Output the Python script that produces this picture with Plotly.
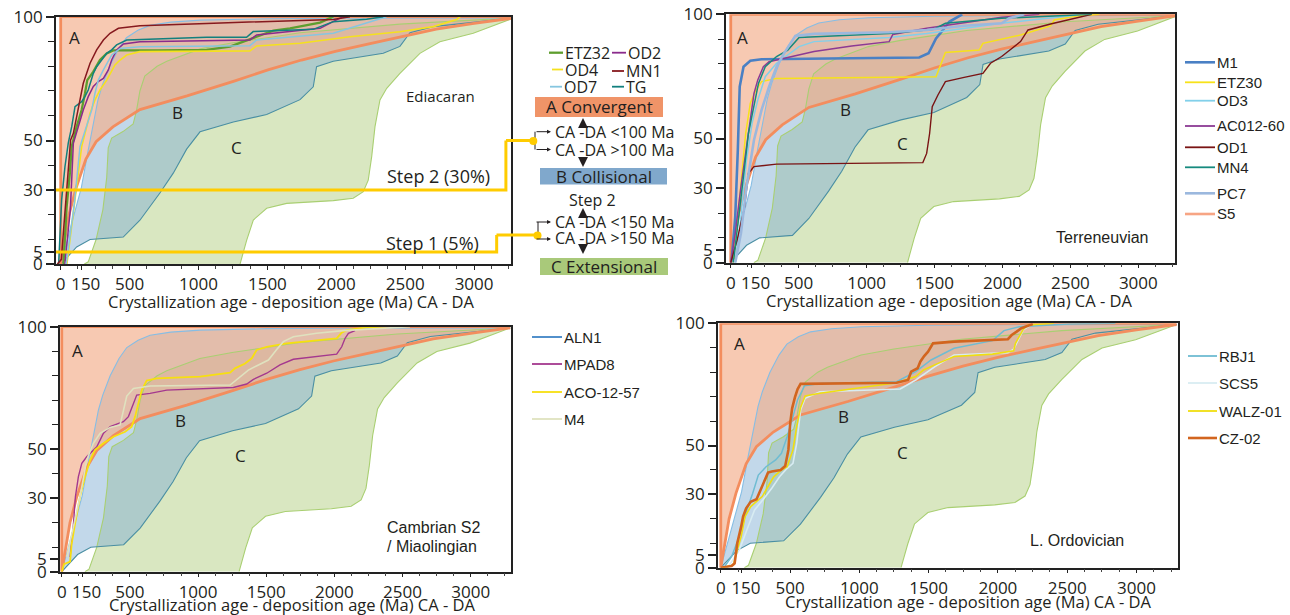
import plotly.graph_objects as go

W, H = 1290, 615

# ---------------- envelope fields (CA-DA in Ma vs cumulative %) ----------------
A_x = [0, 25, 60, 110, 183, 257, 379, 575, 917, 1259, 1504, 1748, 1993, 2237, 2482, 2726, 3000, 3290]
A_y = [0, 9, 20, 30.5, 42.5, 49.5, 55.5, 62.5, 68, 74, 78.5, 82.5, 86, 89, 92, 95, 97.3, 99.5]

B_up_x = [0, 50, 110, 150, 196, 240, 269, 300, 355, 420, 477, 560, 648, 800, 1015, 1500, 2000, 3290]
B_up_y = [0, 10, 22, 31, 45, 58, 66, 72, 80, 87, 91.5, 94.5, 96.5, 97.8, 98.6, 99.2, 99.4, 99.5]
B_lo_x = [0, 116, 213, 454, 575, 720, 817, 914, 1011, 1253, 1495, 1737, 1833, 1857, 1978, 2341, 2462, 2535, 2704, 3290]
B_lo_y = [0, 7, 10, 11, 17.8, 28.8, 36.8, 46.5, 53.5, 57.5, 60.5, 66.5, 71.7, 79.8, 82, 85.2, 88, 93.5, 96, 99.5]

C_l_x = [170, 200, 257, 306, 334, 345, 370, 452, 526, 550, 575, 610, 700, 770, 1013, 1250, 1500, 1737, 2462, 3290]
C_l_y = [0, 1, 10, 22, 35, 47, 51, 53.6, 56.7, 62, 70, 76, 80, 82, 87, 89.5, 91.5, 93.5, 97, 99.5]
C_r_x = [1301, 1350, 1398, 1495, 1640, 1978, 2123, 2196, 2232, 2257, 2281, 2317, 2366, 2462, 2607, 2752, 2994, 3290]
C_r_y = [0, 9.8, 17.9, 22.6, 24.6, 25.7, 26.7, 29.3, 34, 43.5, 55.6, 66.4, 71.1, 77.1, 85.2, 89.9, 93.3, 99.5]

# ---------------- Ediacaran samples ----------------
ETZ32_x = [20, 43, 67, 80, 116, 152, 176, 193, 237, 285, 334, 382, 700, 1059, 1228, 1301, 1422, 1543, 1664, 1882, 1978]
ETZ32_y = [0, 23, 37, 47.5, 55.6, 62.3, 69, 74.4, 77.8, 82.5, 85.2, 86.4, 86.4, 86.6, 87.9, 89.3, 91.9, 94.4, 95.3, 97.6, 100]
OD2_x = [30, 70, 92, 128, 164, 200, 237, 273, 310, 346, 370, 406, 455, 575, 1373, 1422, 1664, 1882, 2002, 2050]
OD2_y = [0, 22, 48.9, 55.6, 62.3, 67.7, 71.8, 73.8, 75.1, 78.5, 82.5, 86.6, 89, 89.9, 90.6, 92.6, 94, 95.3, 98.7, 100]
OD4_x = [45, 110, 152, 189, 213, 249, 285, 334, 370, 394, 431, 479, 575, 1373, 1422, 1737, 2099, 2462, 2704, 2874, 2900]
OD4_y = [0, 28, 47.5, 55.6, 61, 66.4, 70.4, 74.4, 77.8, 80.5, 82.5, 84.5, 85.9, 86.2, 88.2, 89.3, 91.9, 93.9, 96, 98.9, 100]
MN1_x = [-25, 5, 19, 55, 72, 92, 128, 164, 213, 261, 310, 358, 419, 575, 1059, 1664, 1978, 2099]
MN1_y = [0, 2, 12.5, 39.4, 50.2, 52.9, 62.3, 73.1, 81.2, 86.6, 90.6, 93.3, 95.3, 96.3, 97.3, 98.4, 98.9, 100]
OD7_x = [40, 100, 140, 189, 225, 249, 273, 310, 346, 370, 431, 575, 1373, 1422, 1978, 2220, 2365]
OD7_y = [0, 25, 47.5, 55.6, 62.3, 69.1, 74.4, 78.5, 82.5, 84.5, 87.2, 87.9, 88.3, 90.6, 93.3, 97.3, 100]
TG_x = [-15, 7, 31, 55, 80, 104, 152, 176, 200, 237, 261, 297, 334, 370, 406, 479, 1059, 1349, 1397, 1833, 1978, 2220, 2341]
TG_y = [0, 26, 39.4, 48.9, 55.6, 63.7, 65.7, 67.7, 70.4, 77.1, 79.8, 82.5, 85.2, 86.6, 88.6, 90.6, 91.7, 91.7, 94, 94.9, 98, 99, 100]

# ---------------- Terreneuvian samples ----------------
M1_x = [5, 33, 52, 66, 94, 144, 227, 1387, 1456, 1483, 1511, 1552, 1608, 1704]
M1_y = [0, 18.5, 45.4, 70.9, 78.9, 81.3, 81.9, 82.6, 84.3, 87, 90.3, 93, 97, 100]
ETZ30_x = [19, 47, 75, 110, 144, 185, 227, 337, 1511, 1539, 1580, 1829, 1856, 2133, 2354, 2381, 2547, 2713]
ETZ30_y = [0, 14.5, 31.9, 52.1, 64.2, 69.5, 72.9, 74.2, 74.9, 78.9, 84.6, 85.6, 88.3, 91.7, 95.3, 97.7, 99.3, 100]
OD3_x = [33, 75, 116, 157, 199, 254, 337, 420, 503, 613, 1166, 1442, 1994, 2547]
OD3_y = [0, 18.5, 41.3, 56.1, 65.5, 74.9, 80.3, 83.6, 87, 89, 90.7, 92.3, 96.4, 99.7]
AC012_x = [0, 33, 75, 130, 171, 199, 240, 282, 420, 613, 890, 1166, 1193, 1442, 1718, 1994, 2271]
AC012_y = [0, 11.8, 30.6, 52.1, 68.2, 73.6, 78.9, 80.9, 82.7, 85, 87.2, 89, 91.9, 94.4, 96.6, 98.8, 100]
OD1_x = [0, 47, 102, 130, 171, 337, 1414, 1442, 1464, 1483, 1525, 1580, 1718, 1856, 1912, 1994, 2133, 2188, 2354, 2547, 2657]
OD1_y = [0, 9.1, 22.6, 36, 38.7, 39.7, 40.3, 44, 52.1, 62.8, 67.5, 72.9, 74.6, 76.2, 80.3, 83, 89, 93.7, 96.1, 98.4, 100]
MN4_x = [19, 61, 102, 130, 171, 204, 254, 337, 420, 503, 1166, 1497, 1580, 1994, 2657]
MN4_y = [0, 18.5, 38.7, 52.1, 62.8, 72.2, 78.9, 83, 85.6, 90.7, 92.3, 94, 96.4, 98.4, 100]
PC7_x = [33, 75, 116, 171, 227, 282, 337, 392, 475, 613, 1166, 1442, 1718, 1994, 2050, 2160]
PC7_y = [0, 11.8, 30.6, 49.4, 61.5, 70.9, 78.9, 84.3, 91.3, 92.1, 92.8, 93.7, 95.4, 96.4, 98.4, 100]
S5_x = []
S5_y = []

# ---------------- Cambrian S2 / Miaolingian samples ----------------
ALN1_x = []
ALN1_y = []
MPAD8_x = [61, 86, 100, 122, 147, 183, 257, 306, 355, 452, 489, 526, 550, 648, 770, 1259, 1357, 1406, 1504, 1601, 1699, 2017, 2054, 2078, 2103, 2152]
MPAD8_y = [6, 19.7, 30.6, 38.8, 44.2, 46.9, 51, 56.5, 59.2, 61.2, 63.3, 68.7, 72.1, 72.8, 74.1, 75.2, 76.6, 78.5, 81, 84.4, 86.7, 88.8, 91.8, 95.2, 97.3, 98.4]
ACO_x = [0, 17, 61, 73, 98, 134, 171, 208, 244, 306, 379, 465, 513, 538, 562, 587, 623, 697, 1015, 1235, 1271, 1345, 1394, 1430, 1504, 1650, 2017, 2054, 2090, 2237, 2384]
ACO_y = [0, 3.1, 4.1, 11.6, 19.7, 30.6, 38.8, 45.6, 49.7, 52.4, 55.1, 57.1, 59.2, 63.3, 68.7, 74.1, 78, 78.9, 79.6, 81.2, 83, 85, 87.1, 90.5, 91.8, 93.2, 95.2, 97.6, 98.6, 99.7, 100]
M4_x = [37, 86, 134, 183, 232, 281, 355, 428, 452, 477, 526, 648, 1235, 1271, 1320, 1369, 1443, 1516, 1577, 1626, 1699, 1870, 2066, 2555]
M4_y = [6.1, 18.4, 30.6, 45.6, 52.4, 56.5, 58.9, 59.9, 66, 71.7, 74.8, 75.8, 76.2, 77.8, 79.9, 82.3, 84.4, 86.4, 90.7, 93.9, 95.9, 97.3, 98.4, 100]

# ---------------- L. Ordovician samples ----------------
RBJ1_x = [22, 78, 133, 188, 230, 271, 327, 396, 438, 479, 521, 554, 604, 715, 1269, 1407, 1518, 1684, 1961, 2044, 2155, 2515, 2848]
RBJ1_y = [0, 4.5, 12.7, 23.6, 30.4, 37.9, 41.3, 44.1, 46.8, 53.6, 61.8, 68.6, 74.4, 75.4, 76.1, 80.2, 85, 89.8, 92.9, 97, 98.6, 99.7, 100]
SCS5_x = [50, 133, 188, 244, 313, 368, 424, 471, 521, 548, 576, 609, 715, 1296, 1407, 1546, 1684, 2072, 2114, 2141, 2183, 2238]
SCS5_y = [0, 7.2, 15.4, 23.6, 28.4, 32.5, 37.2, 40.2, 42.7, 50.9, 64.5, 69.3, 72, 73.1, 76.8, 82.3, 87, 88, 89.4, 92.5, 97.3, 99.3]
WALZ_x = [8, 91, 119, 147, 175, 216, 299, 382, 438, 479, 521, 548, 576, 609, 715, 909, 1269, 1407, 1463, 1560, 1684, 1961, 2114, 2127, 2155, 2183, 2216, 2404]
WALZ_y = [0, 1.1, 7.2, 12.7, 20.9, 25, 29.1, 37.2, 40, 41.3, 48.2, 57.7, 65.6, 70.3, 71.4, 73, 75.7, 78.2, 80.9, 83.4, 86.4, 87.4, 88.8, 91.8, 94.8, 97.5, 99.3, 100]
CZ02_x = [0, 78, 100, 119, 147, 161, 183, 216, 258, 285, 313, 341, 368, 432, 465, 488, 501, 515, 535, 554, 576, 1269, 1352, 1374, 1421, 1440, 1468, 1496, 1532, 1684, 2072, 2100, 2133, 2169, 2252]
CZ02_y = [0, 0.7, 1.8, 10, 16.8, 20.9, 24.3, 27, 28, 31.8, 35.2, 38.9, 39.4, 40, 41.6, 48.2, 59.1, 65.2, 69.7, 73, 75.2, 75.7, 76.8, 80.2, 81.6, 84.3, 86.6, 88.4, 91.8, 92.5, 93.5, 95.2, 96.5, 98, 99.7]

# step thresholds (Ediacaran panel)
step_pct = [5, 30]
step_end_x = [3164, 3231]
step_link_y = [11.8, 50]

# tick labels
x_tickvals = [0, 150, 500, 1000, 1500, 2000, 2500, 3000]
x_ticktext = ['0', '\u00a0\u00a0150', '500', '1000', '1500', '2000', '2500', '3000']
y_tickvals = [0, 5, 30, 50, 100]
y_minor = [10, 20, 40, 60, 70, 80, 90]
x_title = 'Crystallization age - deposition age (Ma) CA - DA'

# ---------------- layout helpers ----------------
def fx(p):
    return p / W


def fy(p):
    return 1 - p / H


MAIN_FONT = 'Open Sans'
ARIAL = 'Liberation Sans'
TXT = '#231f20'

panels = [
    dict(ax='', left=56, right=511, top=16.7, bottom=264.3, xr=[-34, 3268], title=(291, 302)),
    dict(ax='2', left=726, right=1175, top=14.3, bottom=262.7, xr=[-35, 3270], title=(949, 300)),
    dict(ax='3', left=60, right=511, top=326.7, bottom=571.7, xr=[-13, 3296], title=(292, 604.5)),
    dict(ax='4', left=718, right=1178, top=323.3, bottom=567.7, xr=[-20, 3300], title=(968, 601)),
]

samples = [
    [('ETZ32', ETZ32_x, ETZ32_y, '#5e9e2e', 2.3), ('OD2', OD2_x, OD2_y, '#8a2b8c', 1.5),
     ('OD4', OD4_x, OD4_y, '#f5e11e', 1.6), ('OD7', OD7_x, OD7_y, '#86c6e0', 1.5),
     ('TG', TG_x, TG_y, '#12807e', 1.5), ('MN1', MN1_x, MN1_y, '#86191e', 1.5)],
    [('M1', M1_x, M1_y, '#4a80c4', 2.6), ('ETZ30', ETZ30_x, ETZ30_y, '#f7e21a', 1.5),
     ('OD3', OD3_x, OD3_y, '#82d0ea', 1.5), ('AC012-60', AC012_x, AC012_y, '#8c3a94', 1.5),
     ('OD1', OD1_x, OD1_y, '#7a1414', 1.4), ('MN4', MN4_x, MN4_y, '#168a7e', 1.5),
     ('PC7', PC7_x, PC7_y, '#9bb8de', 2.6), ('S5', S5_x, S5_y, '#f7a584', 2.6)],
    [('ALN1', ALN1_x, ALN1_y, '#3f84c6', 1.8), ('MPAD8', MPAD8_x, MPAD8_y, '#a4388e', 1.4),
     ('ACO-12-57', ACO_x, ACO_y, '#f7df10', 1.8), ('M4', M4_x, M4_y, '#dfe2bf', 1.6)],
    [('RBJ1', RBJ1_x, RBJ1_y, '#6fbcd2', 1.5), ('SCS5', SCS5_x, SCS5_y, '#d8ecf2', 1.6),
     ('WALZ-01', WALZ_x, WALZ_y, '#f0de10', 1.6), ('CZ-02', CZ02_x, CZ02_y, '#d2651f', 2.6)],
]

fig = go.Figure()

for i, p in enumerate(panels):
    xa, ya = 'x' + p['ax'], 'y' + p['ax']
    common = dict(xaxis=xa, yaxis=ya, showlegend=False, hoverinfo='skip')
    fig.add_trace(go.Scatter(x=C_l_x + C_r_x[::-1], y=C_l_y + C_r_y[::-1], mode='lines', fill='toself',
                             fillcolor='#d9e7c1', line=dict(width=0), **common))
    fig.add_trace(go.Scatter(x=B_up_x + B_lo_x[::-1], y=B_up_y + B_lo_y[::-1], mode='lines', fill='toself',
                             fillcolor='rgba(128,174,212,0.48)', line=dict(width=0), **common))
    fig.add_trace(go.Scatter(x=A_x + [3290, 0], y=A_y + [100, 100], mode='lines', fill='toself',
                             fillcolor='rgba(243,176,142,0.68)', line=dict(width=0), **common))
    fig.add_trace(go.Scatter(x=C_l_x, y=C_l_y, mode='lines', line=dict(color='#a9cf72', width=1.1), **common))
    fig.add_trace(go.Scatter(x=C_r_x, y=C_r_y, mode='lines', line=dict(color='#a9cf72', width=1.1), **common))
    fig.add_trace(go.Scatter(x=B_up_x, y=B_up_y, mode='lines', line=dict(color='#86bde4', width=1.1), **common))
    fig.add_trace(go.Scatter(x=B_lo_x, y=B_lo_y, mode='lines', line=dict(color='#4a8fa3', width=1.1), **common))
    fig.add_trace(go.Scatter(x=[3290, 0] + A_x, y=[100, 100] + A_y, mode='lines',
                             line=dict(color='#f38d5e', width=2.8), **common))
    for name, sx, sy, col, lw in samples[i]:
        fig.add_trace(go.Scatter(x=sx, y=sy, mode='lines', name=name, line=dict(color=col, width=lw),
                                 xaxis=xa, yaxis=ya, showlegend=False))

for lvl, ex, ly in zip(step_pct, step_end_x, step_link_y):
    fig.add_trace(go.Scatter(x=[-34, ex, ex], y=[lvl, lvl, ly], mode='lines',
                             line=dict(color='#ffcc00', width=3), xaxis='x', yaxis='y',
                             showlegend=False, hoverinfo='skip'))

for p in panels:
    k = p['ax']
    xd = [fx(p['left']), fx(p['right'])]
    yd = [fy(p['bottom']), fy(p['top'])]
    fig.layout['xaxis' + k] = dict(
        domain=xd, range=p['xr'], anchor='y' + k, automargin=False, tickmode='array',
        tickvals=x_tickvals, ticktext=x_ticktext,
        tickangle=0, ticks='outside', ticklen=4, tickwidth=1.2, tickcolor='#222', showgrid=False, zeroline=False,
        showline=True, linecolor='#222', linewidth=1.5, mirror=True,
        minor=dict(tickmode='linear', tick0=0, dtick=125, ticks='outside', ticklen=3, tickcolor='#444', showgrid=False),
        tickfont=dict(family=MAIN_FONT, size=17, color=TXT),
    )
    fig.layout['yaxis' + k] = dict(
        domain=yd, range=[0, 100], anchor='x' + k, automargin=False, tickmode='array', tickvals=y_tickvals,
        ticks='outside', ticklen=8, tickwidth=2, tickcolor='#222', showgrid=False, zeroline=False,
        showline=True, linecolor='#222', linewidth=1.8, mirror=True,
        minor=dict(tickmode='array', tickvals=y_minor, ticks='outside', ticklen=6, tickwidth=1.2,
                   tickcolor='#222', showgrid=False),
        tickfont=dict(family=MAIN_FONT, size=17, color=TXT),
    )

ann = []
shapes = []


def text(px_, py_, s, size=16, family=MAIN_FONT, xanchor='center', color=TXT):
    ann.append(dict(x=fx(px_), y=fy(py_), xref='paper', yref='paper', text=s, showarrow=False,
                    xanchor=xanchor, yanchor='middle', borderpad=0, font=dict(family=family, size=size, color=color)))


for p in panels:
    text(p['title'][0], p['title'][1], x_title, 16.5)

for (ax_, ay_), (bx, by), (cx, cy) in [((74, 38), (177, 113), (236, 147)),
                                       ((742, 37), (845, 109), (903, 143)),
                                       ((77, 350), (180, 420), (240, 455)),
                                       ((739, 343), (843, 416), (902, 452))]:
    text(ax_, ay_, 'A', 17)
    text(bx, by, 'B', 17)
    text(cx, cy, 'C', 17)

text(441, 96, 'Ediacaran', 15)
text(438, 176, 'Step 2 (30%)', 18)
text(432, 243, 'Step 1 (5%)', 18)
text(1102, 237, 'Terreneuvian', 16, ARIAL)
text(386, 527, 'Cambrian S2', 16, ARIAL, 'left')
text(386, 546, '/ Miaolingian', 16, ARIAL, 'left')
text(1077, 540, 'L. Ordovician', 16, ARIAL)


def legend_entry(x0, x1, ypix, col, lw, label, family, size):
    shapes.append(dict(type='line', xref='paper', yref='paper', x0=fx(x0), x1=fx(x1), y0=fy(ypix), y1=fy(ypix),
                       line=dict(color=col, width=lw)))
    text(x1 + 1, ypix, label, size, family, 'left')


lw_map = {}
for grp in samples:
    for name, _, _, col, lw in grp:
        lw_map[name] = (col, lw)

for name, (cx0, cx1), ypix in [('ETZ32', (549, 563), 52.7), ('OD2', (612, 626), 52.7),
                               ('OD4', (552, 563), 69.5), ('MN1', (612, 624), 71),
                               ('OD7', (550, 562), 86.7), ('TG', (612, 624), 86.7)]:
    col, lw = lw_map[name]
    legend_entry(cx0, cx1, ypix, col, max(lw, 1.8), name, MAIN_FONT, 16)

for name, ypix in zip(['M1', 'ETZ30', 'OD3', 'AC012-60', 'OD1', 'MN4', 'PC7', 'S5'],
                      [62.3, 82.3, 100.7, 126, 147.3, 167.3, 193.3, 214]):
    col, lw = lw_map[name]
    legend_entry(1185, 1215, ypix, col, max(lw, 1.8), name, ARIAL, 15)

for name, ypix in zip(['ALN1', 'MPAD8', 'ACO-12-57', 'M4'], [337, 364, 392, 419]):
    col, lw = lw_map[name]
    legend_entry(532, 562, ypix, col, max(lw, 1.8), name, ARIAL, 15)

for name, ypix in zip(['RBJ1', 'SCS5', 'WALZ-01', 'CZ-02'], [356, 383, 411, 438]):
    col, lw = lw_map[name]
    legend_entry(1188, 1217, ypix, col, max(lw, 1.8), name, ARIAL, 15)

for (x0, x1, y0, y1, col, label) in [(535, 663, 97, 117, 'rgb(240,148,104)', 'A Convergent'),
                                     (540, 667, 168, 184.5, 'rgb(128,168,204)', 'B Collisional'),
                                     (540, 668, 258, 275, 'rgb(169,201,122)', 'C Extensional')]:
    shapes.append(dict(type='rect', xref='paper', yref='paper', x0=fx(x0), x1=fx(x1), y0=fy(y1), y1=fy(y0),
                       fillcolor=col, line=dict(width=0), layer='above'))
    text((x0 + x1) / 2, (y0 + y1) / 2, label, 17)

text(614, 131.7, 'CA -DA <100 Ma', 16)
text(614, 150, 'CA -DA >100 Ma', 16)
text(592, 200, 'Step 2', 16)
text(614, 221.7, 'CA -DA <150 Ma', 16)
text(614, 238.3, 'CA -DA >150 Ma', 16)


def arrow(hx, hy, dx, dy, width=1.4, head=2, size=1.0):
    ann.append(dict(x=fx(hx), y=fy(hy), xref='paper', yref='paper', text='', showarrow=True,
                    ax=dx, ay=dy, arrowhead=head, arrowsize=size, arrowwidth=width, arrowcolor='#231f20'))


arrow(583, 118, 0, 10, 1.8, 2, 1.1)
arrow(583, 167, 0, -10, 1.8, 2, 1.1)
arrow(583, 208, 0, 10, 1.8, 2, 1.1)
arrow(583, 254, 0, -10, 1.8, 2, 1.1)
for bx, ytop, ybot in [(535, 131.7, 149.5), (538, 222, 239)]:
    shapes.append(dict(type='line', xref='paper', yref='paper', x0=fx(bx), x1=fx(bx), y0=fy(ytop), y1=fy(ybot),
                       line=dict(color='#231f20', width=1)))
    arrow(551, ytop, -16, 0, width=1, head=2, size=0.8)
    arrow(551, ybot, -16, 0, width=1, head=2, size=0.8)

for lvl_y, x_end_pix, dot_x, dot_y in [(step_link_y[1], 506, 533.3, 141), (step_link_y[0], 496.5, 537.5, 235.5)]:
    shapes.append(dict(type='line', xref='paper', yref='y', x0=fx(x_end_pix), x1=fx(dot_x), y0=lvl_y, y1=lvl_y,
                       line=dict(color='#ffcc00', width=3)))
    r = 4
    shapes.append(dict(type='circle', xref='paper', yref='paper', x0=fx(dot_x - r), x1=fx(dot_x + r),
                       y0=fy(dot_y + r), y1=fy(dot_y - r), fillcolor='#ffcc00', line=dict(width=0)))

fig.update_layout(
    width=W, height=H, margin=dict(l=0, r=0, t=0, b=0, pad=0, autoexpand=False),
    paper_bgcolor='white', plot_bgcolor='white', showlegend=False,
    annotations=ann, shapes=shapes,
    font=dict(family=MAIN_FONT, color=TXT),
)

fig.write_html('out.html', config={'displayModeBar': False},
               post_script="document.body.style.margin='0px';document.body.style.overflow='hidden';")
